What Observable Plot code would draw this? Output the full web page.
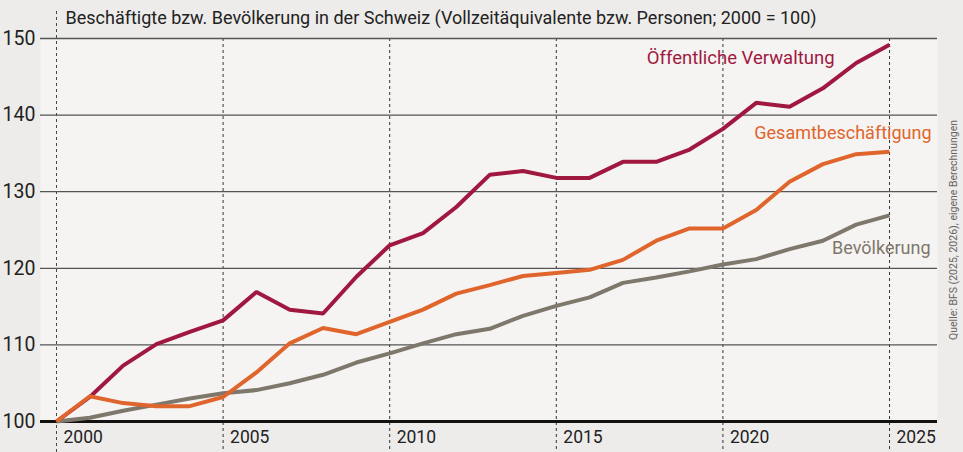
<!DOCTYPE html>
<html><head><meta charset="utf-8">
<script src="https://cdn.jsdelivr.net/npm/d3@7"></script>
<script src="https://cdn.jsdelivr.net/npm/@observablehq/plot@0.6"></script>
<style>
html,body{margin:0;padding:0;background:#edecea;}
#chart svg{display:block}
</style></head><body><div id="chart"></div>
<script>
const years = d3.range(2000, 2026);
const yearTicks = [2000, 2005, 2010, 2015, 2020, 2025];
const yTicks = [100, 110, 120, 130, 140, 150];
const seriesNames = ["Öffentliche Verwaltung", "Bevölkerung", "Gesamtbeschäftigung"];
const verwaltung = [100, 103.2, 107.3, 110.1, 111.7, 113.2, 116.9, 114.6, 114.1, 118.9, 123.0, 124.6, 128.0, 132.2, 132.7, 131.8, 131.8, 133.9, 133.9, 135.5, 138.2, 141.6, 141.1, 143.5, 146.8, 149.2];
const bevoelkerung = [100, 100.5, 101.4, 102.2, 103.0, 103.7, 104.1, 105.0, 106.1, 107.7, 108.9, 110.2, 111.4, 112.1, 113.8, 115.1, 116.2, 118.1, 118.8, 119.6, 120.5, 121.2, 122.5, 123.6, 125.7, 126.9];
const gesamt = [100, 103.3, 102.4, 102.0, 102.0, 103.2, 106.4, 110.2, 112.2, 111.4, 113.0, 114.6, 116.7, 117.8, 119.0, 119.4, 119.8, 121.1, 123.6, 125.2, 125.2, 127.6, 131.3, 133.6, 134.9, 135.2];
const titleText = "Beschäftigte bzw. Bevölkerung in der Schweiz (Vollzeitäquivalente bzw. Personen; 2000 = 100)";
const sourceText = "Quelle: BFS (2025, 2026), eigene Berechnungen";

const colors = ["#a0183f", "#7e776b", "#e0652c"];
const valuesBySeries = [verwaltung, bevoelkerung, gesamt];
const rows = seriesNames.flatMap((name, s) => years.map((yr, i) => ({series: name, year: yr, value: valuesBySeries[s][i]})));
const lastOf = name => rows.filter(r => r.series === name).slice(-1);

const FONT = "Roboto, 'Liberation Sans', sans-serif";

const chart = Plot.plot({
  width: 963, height: 452,
  marginLeft: 40, marginRight: 26, marginTop: 38, marginBottom: 31,
  style: {background: "#edecea", fontFamily: FONT, overflow: "visible"},
  x: {domain: [1999.52, 2026.44]},
  y: {domain: [100, 150]},
  color: {domain: seriesNames, range: colors},
  marks: [
    Plot.frame({fill: "#f5f4f2", stroke: null}),
    Plot.ruleX(yearTicks.slice(0, 1), {x: d => d, stroke: "#444", strokeWidth: 1, strokeDasharray: "3,3", insetTop: -27, insetBottom: -31}),
    Plot.ruleX(yearTicks.slice(1), {x: d => d, stroke: "#333", strokeWidth: 1, strokeDasharray: "3,3", insetBottom: -31}),
    Plot.ruleY(yTicks.filter(v => v > 100), {y: d => d, stroke: "#555", strokeWidth: 1.3}),
    Plot.ruleY([100], {y: d => d, stroke: "#111", strokeWidth: 3}),
    Plot.line(rows, {x: "year", y: "value", z: "series", stroke: "series", strokeWidth: 4, strokeLinejoin: "miter", strokeLinecap: "butt"}),
    Plot.axisY({ticks: yTicks, tickSize: 0, tickPadding: 5, fontSize: 19.5, color: "#222", label: null}),
    Plot.axisX({ticks: yearTicks, tickSize: 0, tickPadding: 9, tickFormat: d => String(d), textAnchor: "start", dx: 7, fontSize: 17.5, color: "#222", label: null}),
    Plot.text([titleText], {frameAnchor: "top-left", dx: 25, dy: -27, textAnchor: "start", lineAnchor: "top", fontSize: 18, fill: "#222"}),
    Plot.text([sourceText], {frameAnchor: "right", rotate: -90, textAnchor: "middle", dx: 16, fontSize: 10.5, fill: "#666"}),
    Plot.text(lastOf(seriesNames[0]), {x: "year", y: "value", text: "series", textAnchor: "end", dx: -55, dy: 13, fontSize: 18.5, fill: colors[0]}),
    Plot.text(lastOf(seriesNames[2]), {x: "year", y: "value", text: "series", textAnchor: "end", dx: 42, dy: -19, fontSize: 18, fill: colors[2]}),
    Plot.text(lastOf(seriesNames[1]), {x: "year", y: "value", text: "series", textAnchor: "end", dx: 41, dy: 33, fontSize: 18, fill: colors[1]})
  ]
});
document.getElementById("chart").appendChild(chart);
</script>
</body></html>
